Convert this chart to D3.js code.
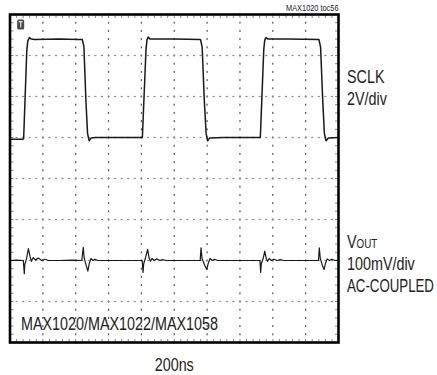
<!DOCTYPE html>
<html>
<head>
<meta charset="utf-8">
<script src="https://cdn.jsdelivr.net/npm/d3@7"></script>
<style>
  html, body { margin: 0; padding: 0; background: #fff; }
  svg { display: block; }
  text { font-family: "Liberation Sans", Arial, sans-serif; fill: #222; }
</style>
</head>
<body>
<svg id="chart" width="437" height="375"></svg>
<script>
// ---- Data (time in ns, SCLK in volts, VOUT in mV AC-coupled) ----
const timeDomain = [0, 2000];          // 10 div x 200ns
const divDomain = [-4, 4];             // 8 vertical divisions
const sclkVoltsPerDiv = 2;
const sclkOffsetDiv = 1;               // SCLK ground marker, div above centre
const voutMvPerDiv = 100;
const voutOffsetDiv = -2;              // VOUT baseline, div below centre

const sclkTrace = [
  [0, -0.08], [80, -0.08], [83, -0.05], [86, 0.6], [102, 4.2], [108, 4.7], [118, 4.88], [130, 4.8],
  [150, 4.78], [300, 4.8], [420, 4.78], [440, 4.78], [450, 4.43], [462, 1.83], [472, 0.2], [482, -0.16],
  [494, -0.02], [520, 0], [800, 0], [806, 0], [809, 0.6], [828, 4.3], [834, 4.75], [841, 4.9],
  [852, 4.8], [1000, 4.8], [1157, 4.78], [1160, 4.78], [1170, 4.4], [1183, 1.8], [1194, 0.2],
  [1203, -0.16], [1216, -0.02], [1300, 0], [1520, 0], [1524, 0], [1527, 0.6], [1545, 4.3],
  [1551, 4.75], [1558, 4.88], [1570, 4.8], [1700, 4.8], [1878, 4.78], [1881, 4.78], [1891, 4.4],
  [1904, 1.8], [1914, 0.2], [1924, -0.16], [1939, -0.02], [2000, 0]
];

const voutTrace = [
  [0, 0], [40, 1], [81, 0], [87, -32], [90, -10], [101, 5], [112, 29], [122, 10], [131, -2],
  [141, 7], [156, 1], [172, 6], [193, 0], [213, 3], [233, 0], [300, 0], [380, 1], [437, 0],
  [446, 32], [452, 5], [466, -15], [474, -26], [482, -8], [493, 5], [505, 0], [517, 3], [535, 0],
  [650, 0], [805, 0], [810, -29], [814, -8], [826, 8], [838, 27], [847, 6], [855, -2], [865, 5],
  [878, 0], [893, 4], [912, 0], [930, 2], [950, 0], [1050, 0], [1158, 0], [1163, 31], [1169, 5],
  [1186, -12], [1198, -22], [1206, -8], [1218, 5], [1231, 0], [1245, 3], [1263, 0], [1400, 0],
  [1522, 0], [1526, -29], [1530, -8], [1542, 6], [1551, 23], [1560, 5], [1568, -2], [1578, 5],
  [1592, 0], [1608, 3], [1626, 0], [1646, 2], [1666, 0], [1780, 0], [1878, 0], [1883, 31],
  [1889, 5], [1902, -12], [1912, -22], [1920, -8], [1931, 4], [1944, 0], [1959, 3], [1979, 0],
  [2000, 1]
];

const channelLabels = [
  { lines: ["SCLK", "2V/div"], baseline: 83 },
  { lines: ["V|OUT", "100mV/div", "AC-COUPLED"], baseline: 247.5 }
];
const partLabel = "MAX1020/MAX1022/MAX1058";
const timeLabel = "200ns";
const tocLabel = "MAX1020 toc56";

// ---- Layout ----
const frame = { left: 10, right: 338.5, top: 14.5, bottom: 342.5 };
const narrow = 0.82;  // horizontal condensing to mimic a narrow face
const labelX = 347;
const maxLabelRight = 434;
const svg = d3.select("#chart");

const x = d3.scaleLinear().domain(timeDomain).range([frame.left, frame.right]);
const yDiv = d3.scaleLinear().domain(divDomain).range([frame.bottom, frame.top]);
const ySclk = v => yDiv(v / sclkVoltsPerDiv + sclkOffsetDiv);
const yVout = mv => yDiv(mv / voutMvPerDiv + voutOffsetDiv);

// ---- Grid (dotted) ----
const grid = svg.append("g");
const xDivTicks = d3.range(1, 10).map(i => timeDomain[0] + i * (timeDomain[1] - timeDomain[0]) / 10);
const yDivTicks = d3.range(-3, 4);
const ySub = d3.range(0, 41).map(j => -4 + j / 5);
const xSub = d3.range(0, 51).map(j => j * 40);

xDivTicks.forEach(t => {
  grid.append("g").selectAll("rect").data(ySub).join("rect")
    .attr("x", x(t) - 0.6).attr("y", d => yDiv(d) - 1)
    .attr("width", 1.2).attr("height", 2).attr("fill", "#555");
});
yDivTicks.forEach(dv => {
  grid.append("g").selectAll("rect").data(xSub).join("rect")
    .attr("x", d => x(d) - 1).attr("y", yDiv(dv) - 0.6)
    .attr("width", 2).attr("height", 1.2).attr("fill", "#8a8a8a");
});
// edge ticks
grid.append("g").selectAll("rect").data(xSub).join("rect")
  .attr("x", d => x(d) - 0.5).attr("y", frame.top + 1).attr("width", 1).attr("height", 2.5).attr("fill", "#888");
grid.append("g").selectAll("rect").data(xSub).join("rect")
  .attr("x", d => x(d) - 0.5).attr("y", frame.bottom - 3.5).attr("width", 1).attr("height", 2.5).attr("fill", "#888");
grid.append("g").selectAll("rect").data(ySub).join("rect")
  .attr("x", frame.left + 1).attr("y", d => yDiv(d) - 0.5).attr("width", 2.5).attr("height", 1).attr("fill", "#888");
grid.append("g").selectAll("rect").data(ySub).join("rect")
  .attr("x", frame.right - 3.5).attr("y", d => yDiv(d) - 0.5).attr("width", 2.5).attr("height", 1).attr("fill", "#888");

// ---- Traces ----
const line = yf => d3.line().x(d => x(d[0])).y(d => yf(d[1]));
svg.append("path").datum(sclkTrace)
  .attr("d", line(ySclk)).attr("fill", "none").attr("stroke", "#1a1a1a")
  .attr("stroke-width", 1.5).attr("stroke-linejoin", "round");
svg.append("path").datum(voutTrace)
  .attr("d", line(yVout)).attr("fill", "none").attr("stroke", "#1a1a1a")
  .attr("stroke-width", 1.2).attr("stroke-linejoin", "round");

// ---- Frame ----
svg.append("rect")
  .attr("x", frame.left).attr("y", frame.top)
  .attr("width", frame.right - frame.left).attr("height", frame.bottom - frame.top)
  .attr("fill", "none").attr("stroke", "#000").attr("stroke-width", 2.6);

// ---- Trigger marker ----
const trig = svg.append("g").attr("transform", `translate(${x(65)},${frame.top + 5})`);
trig.append("rect").attr("x", -3.5).attr("y", 0).attr("width", 7).attr("height", 10)
  .attr("rx", 1.5).attr("fill", "#4a4a4a");
trig.append("path").attr("d", "M-2,2.2 H2 M0,2.2 V8").attr("stroke", "#ddd").attr("stroke-width", 1.2);

// ---- Text (condensed via horizontal scale) ----
function ntext(px, py, size, anchor) {
  const g = svg.append("g").attr("transform", `translate(${px},${py}) scale(${narrow},1)`);
  return g.append("text").attr("x", 0).attr("y", 0).attr("text-anchor", anchor || "start")
    .style("font-size", size + "px");
}

ntext(frame.right, 10.5, 9, "end").text(tocLabel);
ntext(frame.left + 11, 329.5, 17.5).text(partLabel);
ntext((frame.left + frame.right) / 2, 371, 17.5, "middle").text(timeLabel);

channelLabels.forEach(lbl => {
  lbl.lines.forEach((s, i) => {
    const py = lbl.baseline + i * 22;
    const t = ntext(labelX, py, 17.5);
    if (s.includes("|")) {
      const [a, b] = s.split("|");
      t.append("tspan").text(a);
      t.append("tspan").style("font-size", "12px").text(b);
    } else {
      t.text(s);
      // squeeze long labels a little more so they stay inside the page
      const raw = t.node().getComputedTextLength();
      if (labelX + raw * narrow > maxLabelRight) {
        const k = (maxLabelRight - labelX) / raw;
        d3.select(t.node().parentNode).attr("transform", `translate(${labelX},${py}) scale(${k},1)`);
      }
    }
  });
});
</script>
</body>
</html>
